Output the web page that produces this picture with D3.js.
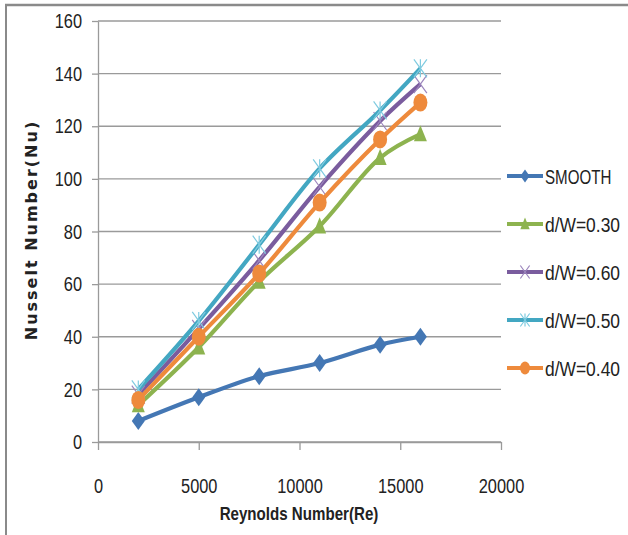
<!DOCTYPE html>
<html>
<head>
<meta charset="utf-8">
<script src="https://cdn.jsdelivr.net/npm/d3@7/dist/d3.min.js"></script>
<style>
  html, body { margin: 0; padding: 0; background: #fff; }
  svg { display: block; }
  .tick-label { font-family: "Liberation Sans", Arial, sans-serif; font-size: 21px; fill: #222; }
  .legend-label { font-family: "Liberation Sans", Arial, sans-serif; font-size: 21px; fill: #222; }
</style>
</head>
<body>
<div id="chart"></div>
<script>
// data
var reynolds = [2000, 5000, 8000, 11000, 14000, 16000];
var smooth = [8, 17, 25, 30, 37, 40];
var dw030 = [14, 36, 61, 82, 108, 117];
var dw060 = [18, 43, 69, 97, 122, 136];
var dw050 = [20, 46, 75, 104, 126, 142];
var dw040 = [16, 40, 64, 91, 115, 129];
var seriesNames = ["SMOOTH", "d/W=0.30", "d/W=0.60", "d/W=0.50", "d/W=0.40"];
var xTicks = [0, 5000, 10000, 15000, 20000];
var yTicks = [0, 20, 40, 60, 80, 100, 120, 140, 160];

var width = 628, height = 535;
var colors = ["#4477b4", "#8db34f", "#7a5c9e", "#43a7c2", "#ee8a3c"];
var markers = ["diamond", "triangle", "x", "star", "circle"];

var series = [smooth, dw030, dw060, dw050, dw040].map(function (vals, i) {
  return {
    name: seriesNames[i],
    color: colors[i],
    marker: markers[i],
    points: vals.map(function (v, j) { return {re: reynolds[j], nu: v}; })
  };
});

var svg = d3.select("#chart").append("svg").attr("width", width).attr("height", height);

// squeeze a text horizontally around its own x, the original font is a narrow one
function narrow(sel, k) {
  sel.each(function () {
    var ax = +(this.getAttribute("x") || 0);
    d3.select(this).attr("transform", "translate(" + ax + ",0) scale(" + k + ",1) translate(" + (-ax) + ",0)");
  });
}

// outer frame (only top and left visible in the picture)
svg.append("line").attr("x1", 5).attr("y1", 5).attr("x2", width).attr("y2", 5)
  .attr("stroke", "#8a8a8a").attr("stroke-width", 2.5);
svg.append("line").attr("x1", 6).attr("y1", 5).attr("x2", 6).attr("y2", height)
  .attr("stroke", "#8a8a8a").attr("stroke-width", 2);

var x = d3.scaleLinear().domain([0, 20000]).range([98, 501]);
var y = d3.scaleLinear().domain([0, 160]).range([442, 21]);

// gridlines
svg.append("g").selectAll("line").data(yTicks).enter().append("line")
  .attr("x1", x(0)).attr("x2", x(20000))
  .attr("y1", function (d) { return y(d); }).attr("y2", function (d) { return y(d); })
  .attr("stroke", "#9a9a9a").attr("stroke-width", 1.3);

// y axis
var yAxis = svg.append("g").attr("transform", "translate(" + x(0) + ",0)")
  .call(d3.axisLeft(y).tickValues(yTicks).tickSize(6).tickSizeOuter(0).tickPadding(10));
// x axis
var xAxis = svg.append("g").attr("transform", "translate(0," + y(0) + ")")
  .call(d3.axisBottom(x).tickValues(xTicks).tickSize(8).tickSizeOuter(0).tickPadding(28).tickFormat(d3.format("d")));

[yAxis, xAxis].forEach(function (ax) {
  ax.attr("font-family", null).attr("font-size", null);
  ax.select(".domain").attr("stroke", "#9a9a9a").attr("stroke-width", 1.3);
  ax.selectAll(".tick line").attr("stroke", "#9a9a9a").attr("stroke-width", 1.3);
  ax.selectAll(".tick text").attr("class", "tick-label").call(narrow, 0.78);
});

// axis titles
svg.append("text")
  .attr("x", 299).attr("y", 520)
  .attr("text-anchor", "middle")
  .style("font-family", "'Liberation Sans', Arial, sans-serif")
  .style("font-weight", "bold").style("font-size", "18px")
  .style("fill", "#222")
  .text("Reynolds Number(Re)")
  .call(narrow, 0.84);

svg.append("text")
  .attr("transform", "translate(37,230) rotate(-90)")
  .attr("text-anchor", "middle")
  .style("font-family", "'DejaVu Sans', sans-serif")
  .style("font-weight", "bold").style("font-size", "16px").style("letter-spacing", "2px")
  .style("fill", "#222")
  .text("Nusselt Number(Nu)");

// marker drawing, w/h are half sizes
function drawMarker(g, type, cx, cy, color, k) {
  var w = 6.5 * k, h = 9 * k;
  if (type === "diamond") {
    g.append("path")
      .attr("d", "M" + cx + "," + (cy - h) + "L" + (cx + w) + "," + cy + "L" + cx + "," + (cy + h) + "L" + (cx - w) + "," + cy + "Z")
      .attr("fill", color);
  } else if (type === "triangle") {
    g.append("path")
      .attr("d", "M" + cx + "," + (cy - h) + "L" + (cx + w) + "," + (cy + h * 0.8) + "L" + (cx - w) + "," + (cy + h * 0.8) + "Z")
      .attr("fill", color);
  } else if (type === "circle") {
    g.append("ellipse").attr("cx", cx).attr("cy", cy).attr("rx", w + 0.5 * k).attr("ry", h)
      .attr("fill", color);
  } else if (type === "x" || type === "star") {
    var c = type === "x" ? "#9c86bd" : "#7fcbe0";
    g.append("path")
      .attr("d", "M" + (cx - w) + "," + (cy - h) + "L" + (cx + w) + "," + (cy + h) + "M" + (cx + w) + "," + (cy - h) + "L" + (cx - w) + "," + (cy + h))
      .attr("stroke", c).attr("stroke-width", 1.2).attr("fill", "none");
    if (type === "star") {
      g.append("path").attr("d", "M" + cx + "," + (cy - h) + "L" + cx + "," + (cy + h))
        .attr("stroke", c).attr("stroke-width", 1.2);
    }
  }
}

var line = d3.line()
  .x(function (d) { return x(d.re); })
  .y(function (d) { return y(d.nu); })
  .curve(d3.curveCatmullRom.alpha(0.5));

series.forEach(function (s) {
  var g = svg.append("g").attr("class", "series");
  g.append("path").datum(s.points)
    .attr("d", line)
    .attr("fill", "none")
    .attr("stroke", s.color)
    .attr("stroke-width", 4.2)
    .attr("stroke-linejoin", "round");
  s.points.forEach(function (p) {
    drawMarker(g, s.marker, x(p.re), y(p.nu), s.color, 1);
  });
});

// legend
var legendY = d3.scalePoint().domain(seriesNames).range([176, 368]);
series.forEach(function (s) {
  var ly = legendY(s.name);
  var g = svg.append("g").attr("class", "legend-item");
  g.append("line").attr("x1", 507).attr("x2", 543).attr("y1", ly).attr("y2", ly)
    .attr("stroke", s.color).attr("stroke-width", 4.2);
  drawMarker(g, s.marker, 525, ly, s.color, 0.72);
  g.append("text").attr("class", "legend-label")
    .attr("x", 545).attr("y", ly).attr("dy", "0.36em")
    .text(s.name)
    .call(narrow, s.name === "SMOOTH" ? 0.72 : 0.83);
});
</script>
</body>
</html>
